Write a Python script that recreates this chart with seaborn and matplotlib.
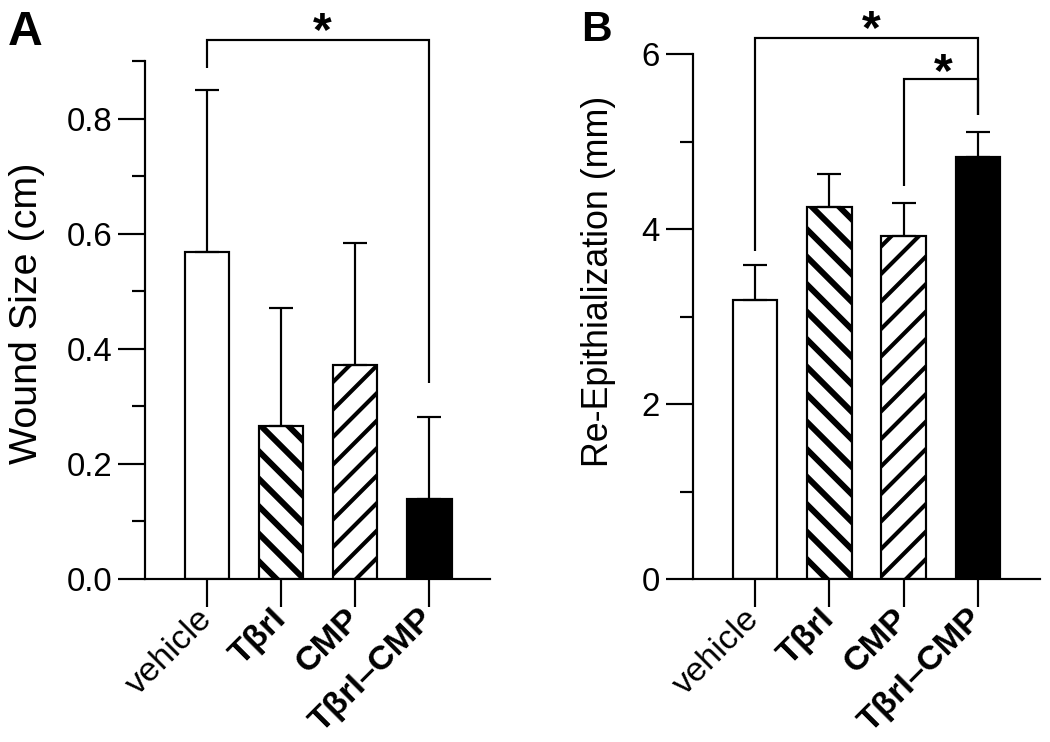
import numpy as np
import pandas as pd
import matplotlib
matplotlib.use("Agg")
import matplotlib.pyplot as plt
from matplotlib.ticker import MultipleLocator, FormatStrFormatter
import seaborn as sns

# data
groups = ["vehicle", "TβrI", "CMP", "TβrI–CMP"]
wound_mean = [0.568, 0.265, 0.371, 0.139]
wound_sd = [0.281, 0.206, 0.212, 0.143]
reepi_mean = [3.19, 4.25, 3.92, 4.82]
reepi_sd = [0.40, 0.38, 0.38, 0.29]

# bar styles per group
faces = ["white", "white", "white", "black"]
hatches = ["", "\\\\", "//", ""]
hatch_lw = [0.9, 2.6, 1.8, 0.9]

# significance brackets: (left group, right group, left leg bottom, top, right leg bottom)
brackets_a = [(0, 3, 0.888, 0.937, 0.34)]
stars_a = [(1.55, 0.9645)]
brackets_b = [(0, 3, 3.75, 6.18, 5.30), (2, 3, 4.49, 5.72, 5.30)]
stars_b = [(1.57, 6.366), (2.53, 5.88)]

DPI = 165
LW = 0.95

sns.set_style("ticks")
plt.rcParams['font.family'] = ['Liberation Sans', 'DejaVu Sans']
plt.rcParams['axes.linewidth'] = LW
plt.rcParams['axes.edgecolor'] = 'black'
plt.rcParams['axes.labelcolor'] = 'black'
plt.rcParams['text.color'] = 'black'
plt.rcParams['xtick.color'] = 'black'
plt.rcParams['ytick.color'] = 'black'


def panel(ax, means, sds, ylim, major, minor, fmt, ylabel, ylabel_size, xlim,
          brackets, stars, letter, letter_size, letter_xy, label_xy):
    df = pd.DataFrame({"group": groups, "value": means})
    sns.barplot(data=df, x="group", y="value", ax=ax, color="white",
                edgecolor="black", linewidth=LW, width=0.6, saturation=1,
                errorbar=None)
    for i, p in enumerate(ax.patches):
        p.set_facecolor(faces[i])
        p.set_hatch(hatches[i])
        if hasattr(p, "set_hatch_linewidth"):
            p.set_hatch_linewidth(hatch_lw[i])
    ax.errorbar(range(len(groups)), means, yerr=[np.zeros(len(sds)), sds],
                fmt="none", ecolor="black", elinewidth=LW, capsize=5.25,
                capthick=LW, zorder=3)

    ax.set_ylim(*ylim)
    ax.set_xlim(*xlim)
    ax.yaxis.set_major_locator(MultipleLocator(major))
    ax.yaxis.set_minor_locator(MultipleLocator(minor))
    ax.yaxis.set_major_formatter(FormatStrFormatter(fmt))
    ax.tick_params(axis="y", which="major", length=11.8, width=LW, labelsize=14.4, pad=2.6)
    ax.tick_params(axis="y", which="minor", length=5.7, width=LW)
    ax.tick_params(axis="x", which="major", length=12.2, width=LW, pad=3)
    sns.despine(ax=ax)

    ax.set_xticks(range(len(groups)))
    ax.set_xticklabels(groups, rotation=45, ha="right", va="center",
                       rotation_mode="anchor", fontsize=15)
    for i, t in enumerate(ax.get_xticklabels()):
        t.set_fontweight("normal" if i == 0 else "bold")

    ax.set_xlabel("")
    ax.set_ylabel(ylabel, fontsize=ylabel_size, color="black")
    ax.yaxis.set_label_coords(*label_xy)

    for xl, xr, yl, yt, yr in brackets:
        ax.plot([xl, xl, xr, xr], [yl, yt, yt, yr], color="black", lw=LW,
                clip_on=False, solid_capstyle="butt", solid_joinstyle="miter")
    for sx, sy in stars:
        ax.annotate("*", (sx, sy), xytext=(0, -3.8), textcoords="offset points",
                    ha="center", va="center", fontsize=21, fontweight="bold",
                    annotation_clip=False)

    ax.figure.text(letter_xy[0], letter_xy[1], letter, fontsize=letter_size,
                   fontweight="bold", ha="left", va="top")


fig = plt.figure(figsize=(1050 / DPI, 742 / DPI), dpi=DPI)
ax_a = fig.add_axes([145 / 1050, 1 - 579 / 742, 345 / 1050, 518 / 742])
ax_b = fig.add_axes([693 / 1050, 1 - 579 / 742, 347 / 1050, 525 / 742])

panel(ax_a, wound_mean, wound_sd, (0, 0.9), 0.2, 0.1, "%.1f", "Wound Size (cm)", 17.2,
      (-0.84, 3.82), brackets_a, stars_a, "A", 21, (8 / 1050, 1 - 10 / 742), (-0.29, 0.5125))
panel(ax_b, reepi_mean, reepi_sd, (0, 6), 2, 1, "%d", "Re-Epithialization (mm)", 15.6,
      (-0.834, 3.836), brackets_b, stars_b, "B", 18.5, (581 / 1050, 1 - 10 / 742), (-0.223, 0.566))

fig.savefig("out.png", dpi=DPI)
